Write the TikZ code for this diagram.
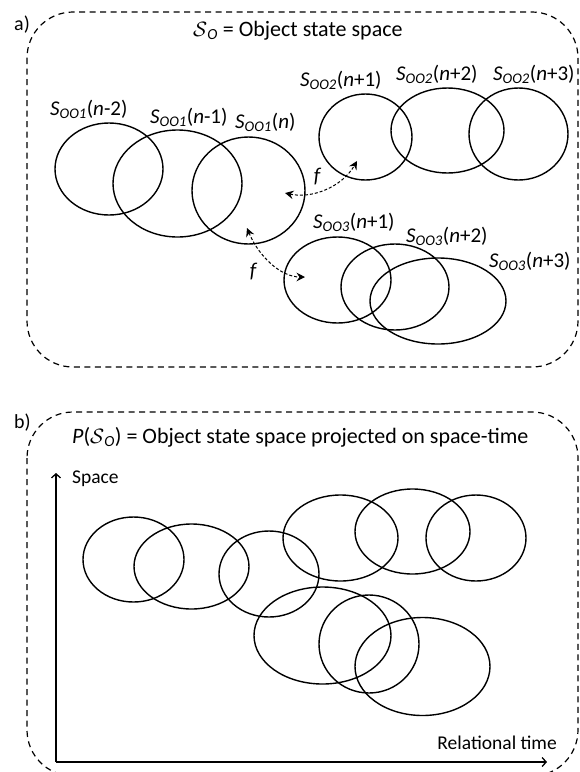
\documentclass[tikz,border=0pt]{standalone}
\usepackage{fontspec}
\setmainfont{Carlito}
\usetikzlibrary{shapes.geometric,arrows.meta}
\newcommand{\sooLbl}[2]{{\itshape S}\textsubscript{\itshape OO#1}(\textit{n}#2)}
\tikzset{
  ell/.style={draw, ellipse, line width=1.4pt, inner sep=0pt},
  framebox/.style={draw, line width=1.2pt, dash pattern=on 6pt off 4.5pt, rounded corners=46pt},
  lbl/.style={anchor=base west, inner sep=0pt, font=\fontsize{21}{25}\selectfont},
  ttl/.style={anchor=base west, inner sep=0pt, font=\fontsize{22}{26}\selectfont},
  axlbl/.style={inner sep=0pt, font=\fontsize{19.5}{23}\selectfont},
  farrow/.style={line width=1pt, dash pattern=on 3pt off 2pt, {Stealth[length=8.5pt,width=8.5pt,inset=3pt]}-{Stealth[length=8.5pt,width=8.5pt,inset=3pt]}},
  axis/.style={line width=1.3pt, -{Straight Barb[length=4pt,width=9pt]}}
}
\begin{document}
\begin{tikzpicture}[x=1pt,y=-1pt]
\useasboundingbox (0,0) rectangle (580,772);
\clip (0,0) rectangle (580,772);
% panel a
\draw[framebox] (27,12) rectangle (578,367);
\node[anchor=base west, inner sep=0pt, font=\fontsize{20}{24}\selectfont] (la) at (14,30) {a)};
\node[ttl] (ta) at (193,36) {$\mathcal{S}$\textsubscript{\itshape O} = Object state space};

\node[ell, minimum width=108pt, minimum height=92pt] (a1) at (109,169) {};
\node[ell, minimum width=129pt, minimum height=107pt] (a2) at (177.5,183.5) {};
\node[ell, minimum width=113pt, minimum height=107pt] (a3) at (248.5,190.5) {};
\node[ell, minimum width=93pt, minimum height=86pt] (a4) at (365.5,137) {};
\node[ell, minimum width=113pt, minimum height=85pt] (a5) at (447.5,130.5) {};
\node[ell, minimum width=99pt, minimum height=92pt] (a6) at (518.5,134) {};
\node[ell, minimum width=107pt, minimum height=86pt] (a7) at (337.5,280) {};
\node[ell, minimum width=108pt, minimum height=86pt] (a8) at (395,287) {};
\node[ell, minimum width=136pt, minimum height=86pt] (a9) at (438,301) {};

\node[lbl] (l1) at (50,115) {\sooLbl{1}{-2}};
\node[lbl] (l2) at (150,123) {\sooLbl{1}{-1}};
\node[lbl] (l3) at (235,128) {\sooLbl{1}{}};
\node[lbl] (l4) at (300,86) {\sooLbl{2}{+1}};
\node[lbl] (l5) at (396,80) {\sooLbl{2}{+2}};
\node[lbl] (l6) at (493,80) {\sooLbl{2}{+3}};
\node[lbl] (l7) at (313,228) {\sooLbl{3}{+1}};
\node[lbl] (l8) at (406,242) {\sooLbl{3}{+2}};
\node[lbl] (l9) at (489,267) {\sooLbl{3}{+3}};

\coordinate (f1s) at (285,193);
\coordinate (f1e) at (357,161);
\coordinate (f2s) at (247,228);
\coordinate (f2e) at (305,277);
\draw[farrow] (f1s) .. controls (312,199) and (342,187) .. (f1e);
\draw[farrow] (f2s) .. controls (258,255) and (280,277) .. (f2e);
\node[lbl, anchor=center] (fa) at (317,177) {\itshape f};
\node[lbl, anchor=center] (fb) at (253,272) {\itshape f};

% panel b
\draw[framebox] (27,412) rectangle (578,776);
\node[anchor=base west, inner sep=0pt, font=\fontsize{20}{24}\selectfont] (lb) at (14,428) {b)};
\node[ttl] (tb) at (72,443) {\textit{P}($\mathcal{S}$\textsubscript{\itshape O}) = Object state space projected on space-time};

\coordinate (o) at (56,762);
\coordinate (ytop) at (56,473);
\coordinate (xend) at (547,762);
\draw[axis] (o) -- (ytop);
\draw[axis] (o) -- (xend);
\node[axlbl, anchor=base west] (sp) at (72,483) {Space};
\node[axlbl, anchor=base east] (rt) at (557,749) {Relational time};

\node[ell, minimum width=101pt, minimum height=85pt] (b1) at (133.5,559.5) {};
\node[ell, minimum width=115pt, minimum height=85pt] (b2) at (191.5,566.5) {};
\node[ell, minimum width=100pt, minimum height=86pt] (b3) at (269,574) {};
\node[ell, minimum width=115pt, minimum height=86pt] (b4) at (340.5,538) {};
\node[ell, minimum width=115pt, minimum height=85pt] (b5) at (412.5,531.5) {};
\node[ell, minimum width=100pt, minimum height=86pt] (b6) at (476,538) {};
\node[ell, minimum width=137pt, minimum height=97pt] (b7) at (322.5,635.5) {};
\node[ell, minimum width=100pt, minimum height=98pt] (b8) at (369,644) {};
\node[ell, minimum width=135pt, minimum height=98pt] (b9) at (422.5,666.5) {};
\end{tikzpicture}
\end{document}
